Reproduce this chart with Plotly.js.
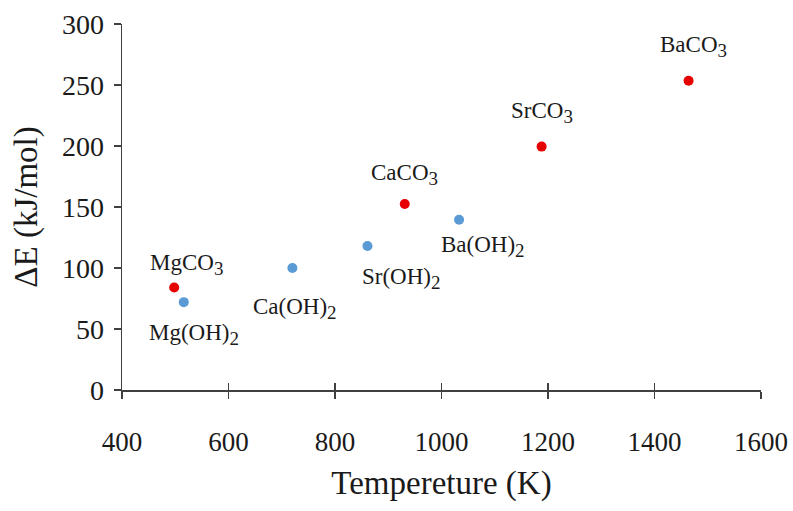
<!DOCTYPE html>
<html>
<head>
<meta charset="utf-8">
<script src="https://cdn.plot.ly/plotly-3.0.1.min.js"></script>
<style>html,body{margin:0;padding:0;background:#fff;}#chart{width:793px;height:511px;}</style>
</head>
<body>
<div id="chart"></div>
<script>
// Data
const carbonateNames = ["MgCO<sub>3</sub>", "CaCO<sub>3</sub>", "SrCO<sub>3</sub>", "BaCO<sub>3</sub>"];
const carbonateT = [498, 931, 1188, 1464];
const carbonateE = [84, 152.5, 199.5, 253.5];

const hydroxideNames = ["Mg(OH)<sub>2</sub>", "Ca(OH)<sub>2</sub>", "Sr(OH)<sub>2</sub>", "Ba(OH)<sub>2</sub>"];
const hydroxideT = [516, 720, 861, 1033];
const hydroxideE = [72, 100, 118, 139.5];

const xTicks = [400, 600, 800, 1000, 1200, 1400, 1600];
const yTicks = [0, 50, 100, 150, 200, 250, 300];

// Label placement offsets (pixels) – styling only
const carbonateLabelShift = [[12, 23], [0, 29], [0, 34], [5, 34]];
const hydroxideLabelShift = [[10, -32], [3, -40], [34, -32], [24, -27]];

const FONT = "Liberation Serif, Times New Roman, serif";
const AXIS = "#404040";
const TXT = "#1a1a1a";

// enlarge subscripts slightly (Times-like chemistry labels)
function bigSub(s) {
  return s.replace(/<sub>(.*?)<\/sub>/g, '<sub><span style="font-size:19px">$1</span></sub>');
}

const traces = [
  {x: hydroxideT, y: hydroxideE, type: "scatter", mode: "markers",
   marker: {color: "#5b9bd5", size: 10}, hoverinfo: "skip"},
  {x: carbonateT, y: carbonateE, type: "scatter", mode: "markers",
   marker: {color: "#e60000", size: 10}, hoverinfo: "skip"},
  // invisible trace on the overlay axis to draw the inner half of the x ticks
  {x: [xTicks[0]], y: [yTicks[0]], xaxis: "x2", type: "scatter", mode: "markers",
   marker: {opacity: 0}, hoverinfo: "skip"}
];

const annotations = [];
function addLabels(names, xs, ys, shifts) {
  names.forEach((n, i) => {
    annotations.push({x: xs[i], y: ys[i], text: bigSub(n), showarrow: false,
      xshift: shifts[i][0], yshift: shifts[i][1],
      font: {family: FONT, size: 23, color: TXT}});
  });
}
addLabels(carbonateNames, carbonateT, carbonateE, carbonateLabelShift);
addLabels(hydroxideNames, hydroxideT, hydroxideE, hydroxideLabelShift);

const layout = {
  width: 793, height: 511,
  margin: {l: 122, r: 32, t: 24, b: 121},
  paper_bgcolor: "#fff", plot_bgcolor: "#fff",
  showlegend: false,
  font: {family: FONT, color: TXT},
  xaxis: {
    range: [400, 1600], tickvals: xTicks, ticktext: xTicks.map(String),
    showgrid: false, zeroline: false, showline: true, linecolor: AXIS, linewidth: 1.5,
    ticks: "outside", ticklen: 7, tickwidth: 1.5, tickcolor: AXIS,
    ticklabelstandoff: 20,
    tickfont: {family: FONT, size: 27, color: TXT},
    title: {text: "Tempereture (K)", font: {family: FONT, size: 33, color: TXT}, standoff: 15},
    automargin: false, fixedrange: true
  },
  xaxis2: {
    overlaying: "x", matches: "x", anchor: "y", side: "bottom",
    range: [400, 1600], tickvals: xTicks, showticklabels: false,
    showgrid: false, zeroline: false, showline: false,
    ticks: "inside", ticklen: 7, tickwidth: 1.5, tickcolor: AXIS, fixedrange: true
  },
  yaxis: {
    range: [0, 300], tickvals: yTicks, ticktext: yTicks.map(String),
    showgrid: false, zeroline: false, showline: true, linecolor: AXIS, linewidth: 1.5,
    ticks: "outside", ticklen: 7, tickwidth: 1.5, tickcolor: AXIS,
    ticklabelstandoff: 4,
    tickfont: {family: FONT, size: 28, color: TXT},
    title: {text: "ΔE (kJ/mol)", font: {family: FONT, size: 33, color: TXT}, standoff: 14},
    automargin: false, fixedrange: true
  },
  annotations: annotations
};

Plotly.newPlot("chart", traces, layout, {displayModeBar: false, staticPlot: true});
</script>
</body>
</html>
